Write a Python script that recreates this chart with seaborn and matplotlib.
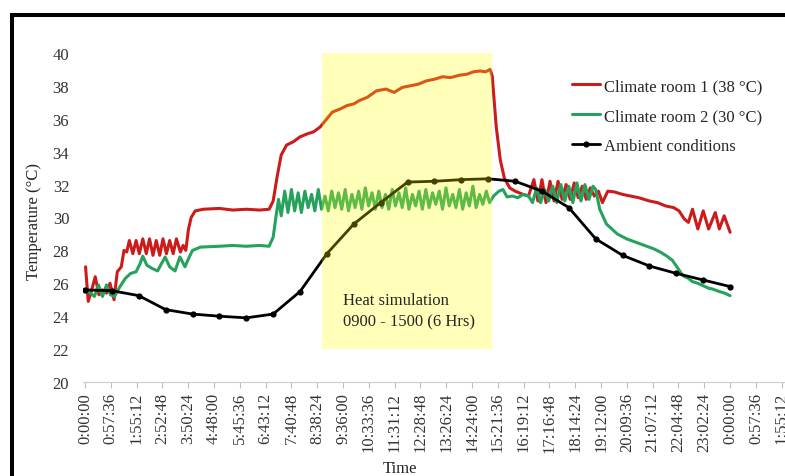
import matplotlib
matplotlib.use("Agg")
import matplotlib.pyplot as plt
from matplotlib.patches import Rectangle
import seaborn as sns

sns.set_theme(style="white")
plt.rcParams['font.family'] = ['Liberation Serif', 'DejaVu Serif']

# time in hours since 0:00:00
room1_hours = [0.02, 0.12, 0.25, 0.38, 0.52, 0.65, 0.8, 0.93, 1.08, 1.2, 1.35, 1.45, 1.55, 1.65,
               1.78, 1.9, 2.02, 2.15, 2.28, 2.4, 2.53, 2.65, 2.78, 2.9, 3.03, 3.15, 3.28, 3.4,
               3.55, 3.65, 3.75, 3.85, 3.95, 4.1, 4.4, 5.0, 5.5, 6.0, 6.5, 6.85, 7.0, 7.15, 7.3,
               7.5, 7.75, 8.0, 8.3, 8.5, 8.75, 8.95, 9.2, 9.5, 9.75, 10.0, 10.2, 10.5, 10.85,
               11.2, 11.5, 11.8, 12.1, 12.4, 12.7, 13.0, 13.3, 13.6, 13.95, 14.2, 14.45, 14.7,
               14.9, 15.07, 15.15, 15.3, 15.45, 15.6, 15.8, 16.0, 16.3, 16.5, 16.7, 16.85, 17.0,
               17.15, 17.3, 17.45, 17.6, 17.75, 17.9, 18.05, 18.2, 18.35, 18.5, 18.65, 18.8,
               18.95, 19.1, 19.25, 19.45, 19.7, 20.0, 20.3, 20.6, 21.0, 21.3, 21.6, 21.9, 22.1,
               22.3, 22.45, 22.6, 22.8, 23.0, 23.2, 23.45, 23.6, 23.78, 24.0]
room1_temp = [27.0, 24.9, 25.6, 26.4, 25.3, 25.6, 25.4, 26.0, 25.0, 26.7, 27.0, 28.0, 27.9, 28.6,
              27.8, 28.6, 27.8, 28.7, 27.8, 28.7, 27.7, 28.6, 27.7, 28.7, 27.8, 28.6, 27.8, 28.7,
              27.9, 28.3, 28.0, 29.3, 30.0, 30.4, 30.5, 30.55, 30.45, 30.5, 30.45, 30.5, 31.0,
              32.5, 33.8, 34.4, 34.6, 34.9, 35.1, 35.2, 35.5, 35.9, 36.4, 36.6, 36.8, 36.9, 37.1,
              37.3, 37.7, 37.8, 37.6, 37.9, 38.0, 38.1, 38.3, 38.4, 38.55, 38.5, 38.65, 38.7,
              38.85, 38.9, 38.85, 39.0, 38.6, 35.5, 33.5, 32.4, 31.8, 31.6, 31.4, 31.3, 32.3,
              31.0, 32.3, 30.9, 32.2, 31.0, 32.2, 31.1, 32.0, 31.1, 32.1, 31.2, 31.9, 31.1, 31.8,
              31.3, 31.6, 30.9, 31.6, 31.55, 31.4, 31.3, 31.2, 31.0, 30.9, 30.7, 30.6, 30.4,
              29.9, 29.7, 30.5, 29.3, 30.4, 29.3, 30.3, 29.3, 30.1, 29.1]

room2_hours = [0.0, 0.2, 0.35, 0.5, 0.65, 0.8, 0.95, 1.1, 1.3, 1.5, 1.7, 1.9, 2.05, 2.15, 2.3,
               2.5, 2.7, 2.85, 2.98, 3.15, 3.35, 3.53, 3.72, 3.85, 4.0, 4.3, 5.0, 5.5, 6.0, 6.5,
               6.85, 7.0, 7.1, 7.2,
               7.3, 7.43, 7.55, 7.68, 7.8, 7.93, 8.05, 8.18, 8.3, 8.43, 8.55, 8.68, 8.8, 8.93,
               9.05, 9.18, 9.3, 9.43, 9.55, 9.68, 9.8, 9.93, 10.05, 10.18, 10.3, 10.43, 10.55,
               10.68, 10.8, 10.93, 11.05, 11.18, 11.3, 11.43, 11.55, 11.68, 11.8, 11.93, 12.05,
               12.18, 12.3, 12.43, 12.55, 12.68, 12.8, 12.93, 13.05, 13.18, 13.3, 13.43, 13.55,
               13.68, 13.8, 13.93, 14.05, 14.18, 14.3, 14.43, 14.55, 14.68, 14.8, 14.93, 15.05,
               15.2, 15.4, 15.55, 15.7, 15.9, 16.1, 16.3, 16.5, 16.65, 16.8, 16.95, 17.1, 17.25,
               17.4, 17.55, 17.7, 17.85, 18.0, 18.15, 18.3, 18.45, 18.6, 18.75, 18.9, 19.0, 19.15,
               19.4, 19.8, 20.15, 20.4, 20.65, 20.9, 21.15, 21.4, 21.65, 21.85, 22.0, 22.25,
               22.45, 22.6, 22.8, 23.0, 23.2, 23.35, 23.6, 23.8, 24.0]
room2_temp = [25.6, 25.4, 25.2, 25.9, 25.2, 25.9, 25.3, 25.2, 25.8, 26.3, 26.6, 26.7, 27.2, 27.65,
              27.1, 26.9, 26.75, 27.2, 27.6, 27.0, 26.75, 27.6, 27.0, 27.5, 28.0, 28.2, 28.25,
              28.3, 28.25, 28.3, 28.25, 28.8, 30.0, 31.1,
              30.1, 31.6, 30.3, 31.7, 30.4, 31.5, 30.3, 31.6, 30.6, 31.4, 30.4, 31.7, 30.5, 31.3,
              30.4, 31.6, 30.6, 31.5, 30.5, 31.7, 30.4, 31.4, 30.6, 31.6, 30.5, 31.8, 30.7, 31.5,
              30.5, 31.6, 30.6, 31.4, 30.5, 31.7, 30.7, 31.5, 30.6, 31.8, 30.5, 31.4, 30.7, 31.6,
              30.5, 31.7, 30.6, 31.5, 30.8, 31.6, 30.5, 31.8, 30.7, 31.4, 30.6, 31.7, 30.5, 31.5,
              30.7, 31.9, 30.6, 31.4, 30.8, 31.6, 30.9,
              31.3, 31.6, 31.7, 31.25, 31.3, 31.2, 31.4, 31.3, 30.9, 31.8, 30.9, 31.7, 31.0,
              31.9, 30.9, 32.0, 31.0, 31.9, 30.9, 32.1, 31.0, 32.0, 31.1, 31.9, 31.7, 30.5,
              29.6, 29.0, 28.7, 28.55, 28.4, 28.25, 28.1, 27.9, 27.65, 27.4, 27.05, 26.45,
              26.3, 26.1, 26.0, 25.85, 25.7, 25.65, 25.5, 25.4, 25.25]

ambient_hours = list(range(25))
ambient_temp = [25.6, 25.55, 25.25, 24.4, 24.13, 24.0, 23.9, 24.13, 25.5, 27.8, 29.6, 30.9,
                32.15, 32.2, 32.3, 32.35, 32.2, 31.6, 30.6, 28.7, 27.7, 27.05, 26.6, 26.2, 25.8]

tick_labels = ["0:00:00", "0:57:36", "1:55:12", "2:52:48", "3:50:24", "4:48:00", "5:45:36",
               "6:43:12", "7:40:48", "8:38:24", "9:36:00", "10:33:36", "11:31:12", "12:28:48",
               "13:26:24", "14:24:00", "15:21:36", "16:19:12", "17:16:48", "18:14:24",
               "19:12:00", "20:09:36", "21:07:12", "22:04:48", "23:02:24", "0:00:00",
               "0:57:36", "1:55:12"]
tick_step = 0.96  # 57:36 in hours
heat_start, heat_end = 8.8, 15.15

fig = plt.figure(figsize=(7.85, 4.77), dpi=100)
ax = fig.add_axes([0.1059, 0.197, 0.944, 0.690])

sns.lineplot(x=room1_hours, y=room1_temp, color="#CC1B1B", lw=2.2, ax=ax,
             label="Climate room 1 (38 °C)", estimator=None, sort=False)
sns.lineplot(x=room2_hours, y=room2_temp, color="#25A25C", lw=2.2, ax=ax,
             label="Climate room 2 (30 °C)", estimator=None, sort=False)
sns.lineplot(x=ambient_hours, y=ambient_temp, color="black", lw=2.0, marker="o",
             markersize=4.5, markeredgewidth=0, ax=ax, label="Ambient conditions",
             estimator=None, sort=False)

# yellow highlight drawn over the lines, semi transparent
ax.add_patch(Rectangle((heat_start, 22), heat_end - heat_start, 18, facecolor="#FFFF00",
                       alpha=0.27, edgecolor="none", zorder=5))
ax.text(9.6, 25.45, "Heat simulation\n0900 - 1500 (6 Hrs)", fontsize=12, color="#262626",
        va="top", ha="left", linespacing=1.45, zorder=6)

ax.set_xlim(-0.07, 27.5)
ax.set_ylim(20, 40)
ax.set_yticks(range(20, 41, 2))
ax.set_xticks([i * tick_step for i in range(len(tick_labels))])
ax.set_xticklabels(tick_labels, rotation=90)
ax.tick_params(axis="x", labelsize=12, colors="#333333", length=4, width=0.8,
               color="#BFBFBF", pad=3, bottom=True)
ax.tick_params(axis="y", labelsize=12, colors="#333333", length=0, pad=10)

for s in ["left", "right", "top"]:
    ax.spines[s].set_visible(False)
ax.spines["bottom"].set_color("#D0D0D0")
ax.spines["bottom"].set_linewidth(0.9)

ax.set_xlabel("Time", fontsize=12, color="#262626")
ax.set_ylabel("Temperature (°C)", fontsize=12, color="#262626")
ax.xaxis.set_label_coords(0.428, -0.237)
ax.yaxis.set_label_coords(-0.055, 0.49)

ax.legend(loc="upper left", bbox_to_anchor=(572 / 785, 1 - 79 / 477),
          bbox_transform=fig.transFigure, frameon=False, fontsize=12, borderpad=0,
          borderaxespad=0, handlelength=1.7, handletextpad=0.25, labelspacing=0.85,
          labelcolor="#262626")

# black frame around the picture (cut off on the right and bottom)
fig.add_artist(Rectangle((11.5 / 785, -0.2), 1.3, 1 - 16 / 477 + 0.2,
                         transform=fig.transFigure, fill=False, lw=2.9, ec="black"))

fig.savefig("out.png", dpi=100)
